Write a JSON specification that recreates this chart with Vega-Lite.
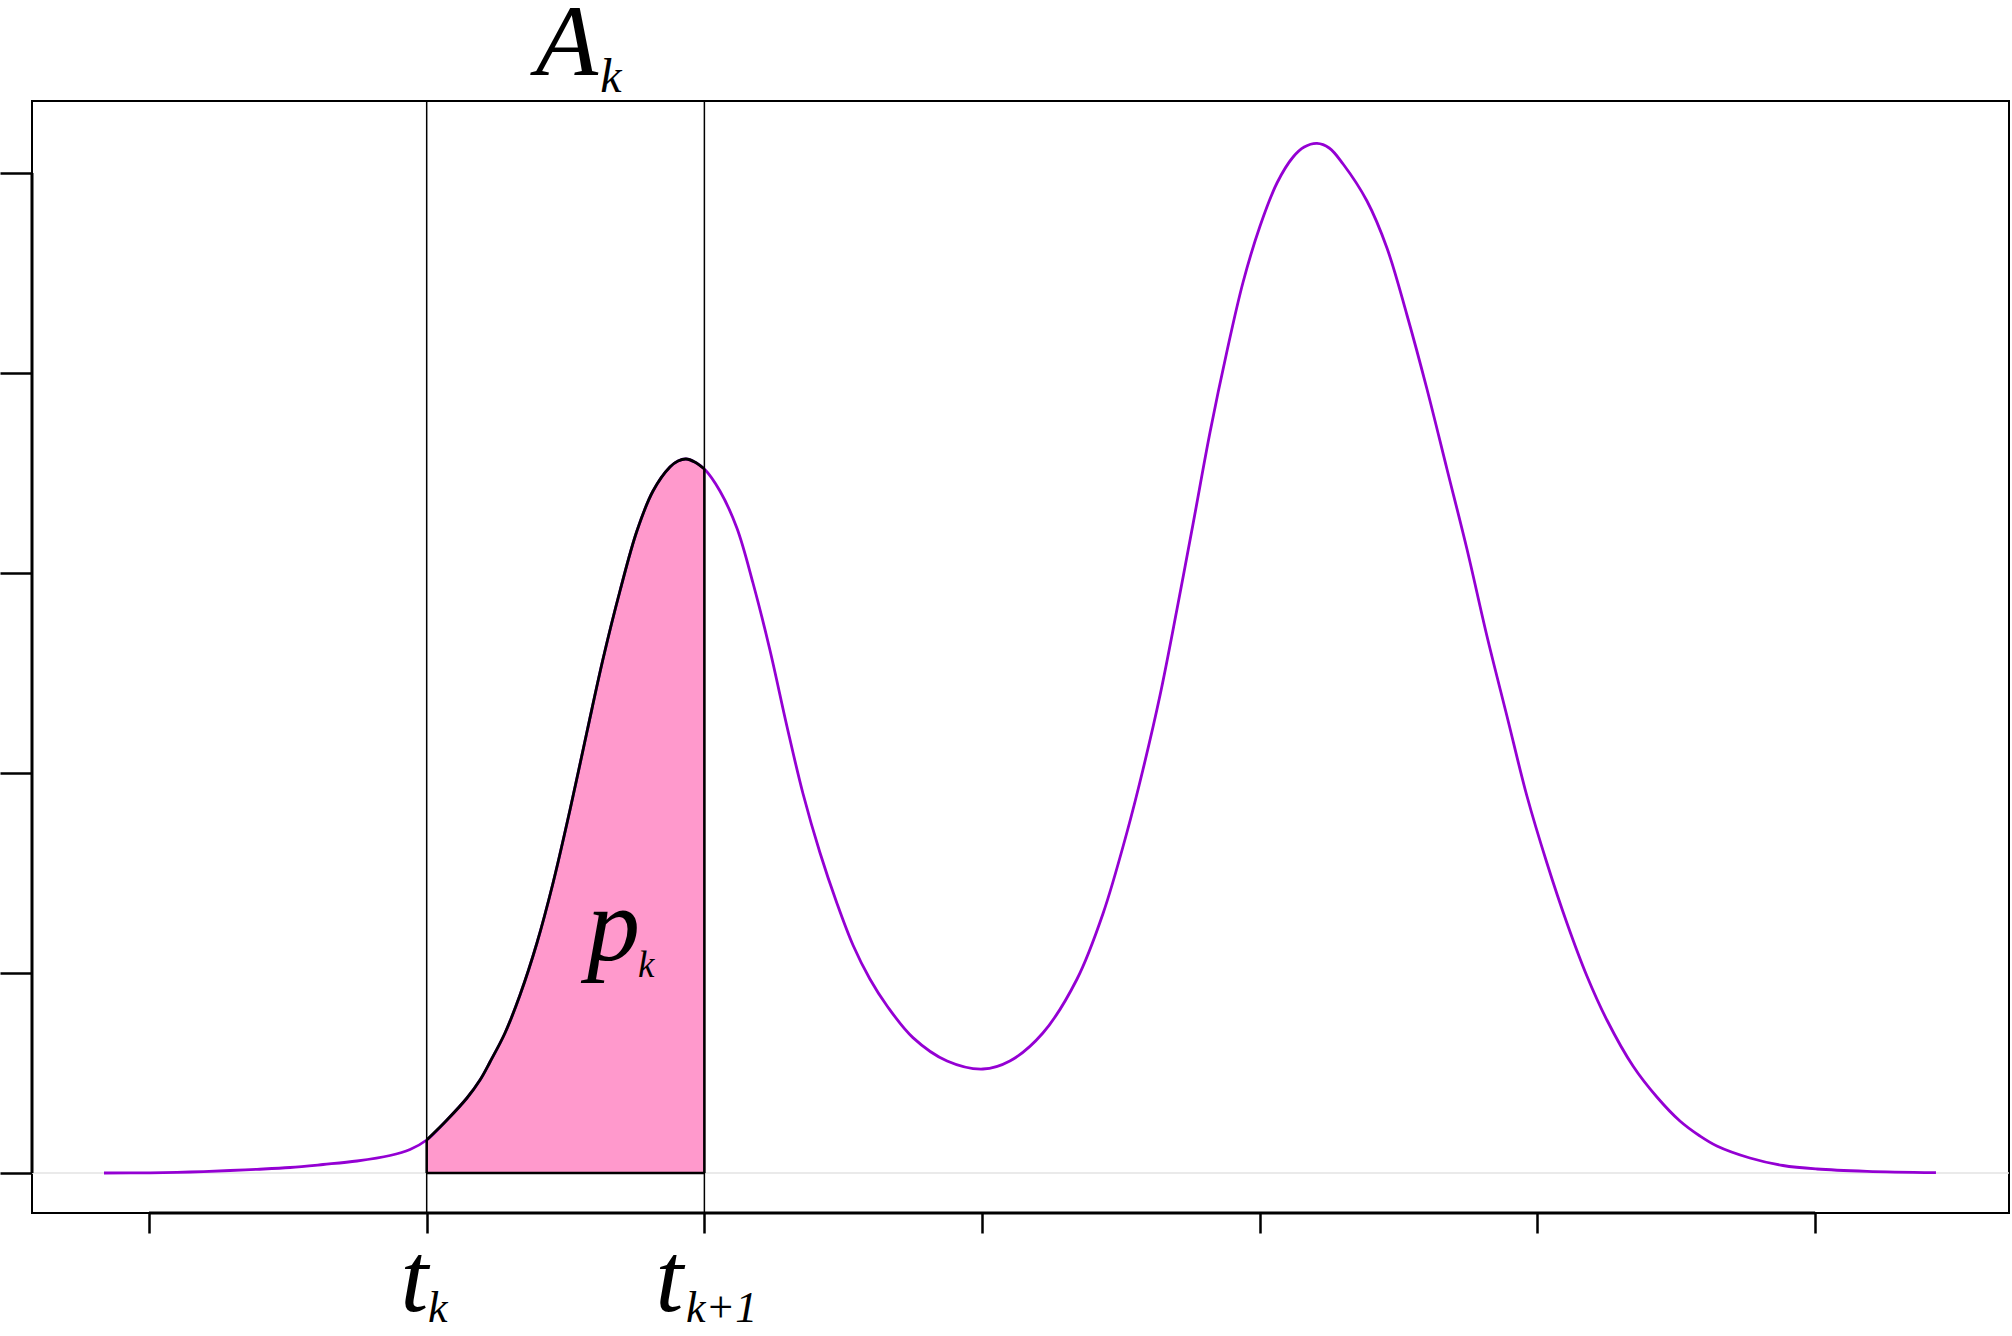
{
  "$schema": "https://vega.github.io/schema/vega-lite/v6.json",
  "width": 1977,
  "height": 1112,
  "autosize": {"type": "none"},
  "padding": {"left": 32, "top": 101, "right": 3, "bottom": 123},
  "background": "white",
  "config": {
    "view": {"stroke": "black", "strokeWidth": 2}
  },
  "datasets": {
    "curve": [
      {"x": -0.162, "y": 0}, {"x": 0.004, "y": 0.001}, {"x": 0.148, "y": 0.005}, {"x": 0.292, "y": 0.0125}, {"x": 0.389, "y": 0.0185}, {"x": 0.508, "y": 0.0275}, {"x": 0.627, "y": 0.0425}, {"x": 0.749, "y": 0.06}, {"x": 0.868, "y": 0.0875}, {"x": 0.94, "y": 0.1175}, {"x": 1.0, "y": 0.165},
      {"x": 1.073, "y": 0.265}, {"x": 1.145, "y": 0.375}, {"x": 1.192, "y": 0.465}, {"x": 1.228, "y": 0.555}, {"x": 1.282, "y": 0.7}, {"x": 1.336, "y": 0.89}, {"x": 1.397, "y": 1.15}, {"x": 1.455, "y": 1.45}, {"x": 1.516, "y": 1.815}, {"x": 1.577, "y": 2.205}, {"x": 1.635, "y": 2.57}, {"x": 1.696, "y": 2.91}, {"x": 1.757, "y": 3.21}, {"x": 1.815, "y": 3.41}, {"x": 1.876, "y": 3.53}, {"x": 1.905, "y": 3.56}, {"x": 1.934, "y": 3.57}, {"x": 1.965, "y": 3.555}, {"x": 2.0, "y": 3.52},
      {"x": 2.056, "y": 3.41}, {"x": 2.117, "y": 3.225}, {"x": 2.175, "y": 2.95}, {"x": 2.236, "y": 2.615}, {"x": 2.297, "y": 2.235}, {"x": 2.355, "y": 1.8975}, {"x": 2.416, "y": 1.6025}, {"x": 2.477, "y": 1.35}, {"x": 2.535, "y": 1.14}, {"x": 2.596, "y": 0.97}, {"x": 2.658, "y": 0.835}, {"x": 2.751, "y": 0.677}, {"x": 2.874, "y": 0.56}, {"x": 3.003, "y": 0.52}, {"x": 3.1, "y": 0.56}, {"x": 3.219, "y": 0.7}, {"x": 3.342, "y": 0.97}, {"x": 3.435, "y": 1.295}, {"x": 3.522, "y": 1.705}, {"x": 3.579, "y": 2.015}, {"x": 3.641, "y": 2.39}, {"x": 3.702, "y": 2.82}, {"x": 3.759, "y": 3.24}, {"x": 3.821, "y": 3.705}, {"x": 3.882, "y": 4.11}, {"x": 3.94, "y": 4.455}, {"x": 4.001, "y": 4.735}, {"x": 4.062, "y": 4.95}, {"x": 4.12, "y": 5.08}, {"x": 4.16, "y": 5.13}, {"x": 4.206, "y": 5.148}, {"x": 4.25, "y": 5.125},
      {"x": 4.3, "y": 5.045}, {"x": 4.386, "y": 4.86}, {"x": 4.458, "y": 4.625}, {"x": 4.53, "y": 4.29}, {"x": 4.602, "y": 3.92}, {"x": 4.674, "y": 3.52}, {"x": 4.746, "y": 3.12}, {"x": 4.818, "y": 2.685}, {"x": 4.89, "y": 2.285}, {"x": 4.962, "y": 1.885}, {"x": 5.034, "y": 1.55}, {"x": 5.106, "y": 1.25}, {"x": 5.178, "y": 0.985}, {"x": 5.25, "y": 0.765}, {"x": 5.344, "y": 0.535}, {"x": 5.43, "y": 0.38}, {"x": 5.513, "y": 0.26}, {"x": 5.585, "y": 0.185}, {"x": 5.646, "y": 0.135}, {"x": 5.765, "y": 0.075}, {"x": 5.884, "y": 0.0375}, {"x": 6.006, "y": 0.02}, {"x": 6.187, "y": 0.0085}, {"x": 6.435, "y": 0.0015}
    ],
    "border": [
      {"x": 1, "x2": 2, "y": 0, "y2": 0},
      {"x": 1, "x2": 1, "y": 0, "y2": 0.165},
      {"x": 2, "x2": 2, "y": 0, "y2": 3.52}
    ],
    "axisLines": [
      {"x": 0, "x2": 6, "y": -0.2, "y2": -0.2},
      {"x": -0.4213, "x2": -0.4213, "y": 0, "y2": 5}
    ],
    "cuts": [{"x": 1}, {"x": 2}],
    "zero": [{"y": 0}],
    "labels": [
      {"name": "A", "part": "main", "text": "A", "x": 1.505, "y": 5.49},
      {"name": "A", "part": "sub", "text": "k", "x": 1.625, "y": 5.405},
      {"name": "p", "part": "main", "text": "p", "x": 1.673, "y": 1.065},
      {"name": "p", "part": "sub", "text": "k", "x": 1.761, "y": 0.98},
      {"name": "t", "part": "main", "text": "t", "x": 0.956, "y": -0.69},
      {"name": "t", "part": "sub", "text": "k", "x": 1.005, "y": -0.745},
      {"name": "t1", "part": "main", "text": "t", "x": 1.874, "y": -0.69},
      {"name": "t1", "part": "sub", "text": "k+1", "x": 1.934, "y": -0.745}
    ]
  },
  "layer": [
    {
      "data": {"name": "zero"},
      "mark": {"type": "rule", "color": "#e3e3e3", "strokeWidth": 1.5},
      "encoding": {
        "y": {"field": "y", "type": "quantitative", "scale": {"domain": [-0.2, 5.36], "nice": false, "zero": false}, "axis": {"values": [0, 1, 2, 3, 4, 5], "title": null, "labels": false, "domain": false, "grid": false, "ticks": true, "tickColor": "black", "tickWidth": 2.5, "tickSize": 32}}
      }
    },
    {
      "data": {"name": "curve"},
      "transform": [{"filter": "datum.x >= 1 && datum.x <= 2"}],
      "mark": {"type": "area", "color": "#FF99CC", "opacity": 1, "interpolate": "catmull-rom"},
      "encoding": {
        "x": {"field": "x", "type": "quantitative", "scale": {"domain": [-0.4213, 6.698], "nice": false, "zero": false}, "axis": {"values": [0, 1, 2, 3, 4, 5, 6], "title": null, "labels": false, "domain": false, "grid": false, "ticks": true, "tickColor": "black", "tickWidth": 2.5, "tickSize": 20}},
        "y": {"field": "y", "type": "quantitative", "axis": {"values": [0, 1, 2, 3, 4, 5], "title": null, "labels": false, "domain": false, "grid": false, "ticks": true, "tickColor": "black", "tickWidth": 2.5, "tickSize": 32}}
      }
    },
    {
      "data": {"name": "curve"},
      "mark": {"type": "line", "color": "#9400D3", "strokeWidth": 2.8, "interpolate": "catmull-rom"},
      "encoding": {
        "x": {"field": "x", "type": "quantitative", "axis": {"values": [0, 1, 2, 3, 4, 5, 6], "title": null, "labels": false, "domain": false, "grid": false, "ticks": true, "tickColor": "black", "tickWidth": 2.5, "tickSize": 20}},
        "y": {"field": "y", "type": "quantitative", "axis": {"values": [0, 1, 2, 3, 4, 5], "title": null, "labels": false, "domain": false, "grid": false, "ticks": true, "tickColor": "black", "tickWidth": 2.5, "tickSize": 32}}
      }
    },
    {
      "data": {"name": "curve"},
      "transform": [{"filter": "datum.x >= 1 && datum.x <= 2"}],
      "mark": {"type": "line", "color": "black", "strokeWidth": 2.8, "interpolate": "catmull-rom"},
      "encoding": {
        "x": {"field": "x", "type": "quantitative"},
        "y": {"field": "y", "type": "quantitative"}
      }
    },
    {
      "data": {"name": "border"},
      "mark": {"type": "rule", "color": "black", "strokeWidth": 2.5},
      "encoding": {
        "x": {"field": "x", "type": "quantitative"},
        "x2": {"field": "x2"},
        "y": {"field": "y", "type": "quantitative"},
        "y2": {"field": "y2"}
      }
    },
    {
      "data": {"name": "cuts"},
      "mark": {"type": "rule", "color": "black", "strokeWidth": 1.5},
      "encoding": {
        "x": {"field": "x", "type": "quantitative"}
      }
    },
    {
      "data": {"name": "axisLines"},
      "mark": {"type": "rule", "color": "black", "strokeWidth": 3},
      "encoding": {
        "x": {"field": "x", "type": "quantitative"},
        "x2": {"field": "x2"},
        "y": {"field": "y", "type": "quantitative"},
        "y2": {"field": "y2"}
      }
    },
    {
      "data": {"name": "labels"},
      "transform": [{"filter": "datum.part === 'main' && datum.name === 'A'"}],
      "mark": {"type": "text", "font": "Liberation Serif", "fontStyle": "italic", "fontSize": 102, "align": "center", "baseline": "alphabetic", "color": "black"},
      "encoding": {
        "x": {"field": "x", "type": "quantitative"},
        "y": {"field": "y", "type": "quantitative"},
        "text": {"field": "text"}
      }
    },
    {
      "data": {"name": "labels"},
      "transform": [{"filter": "datum.part === 'main' && datum.name === 'p'"}],
      "mark": {"type": "text", "font": "Liberation Serif", "fontStyle": "italic", "fontSize": 106, "align": "center", "baseline": "alphabetic", "color": "black"},
      "encoding": {
        "x": {"field": "x", "type": "quantitative"},
        "y": {"field": "y", "type": "quantitative"},
        "text": {"field": "text"}
      }
    },
    {
      "data": {"name": "labels"},
      "transform": [{"filter": "datum.part === 'main' && (datum.name === 't' || datum.name === 't1')"}],
      "mark": {"type": "text", "font": "Liberation Serif", "fontStyle": "italic", "fontSize": 100, "align": "center", "baseline": "alphabetic", "color": "black"},
      "encoding": {
        "x": {"field": "x", "type": "quantitative"},
        "y": {"field": "y", "type": "quantitative"},
        "text": {"field": "text"}
      }
    },
    {
      "data": {"name": "labels"},
      "transform": [{"filter": "datum.part === 'sub' && datum.name === 'A'"}],
      "mark": {"type": "text", "font": "Liberation Serif", "fontStyle": "italic", "fontSize": 48, "align": "left", "baseline": "alphabetic", "color": "black"},
      "encoding": {
        "x": {"field": "x", "type": "quantitative"},
        "y": {"field": "y", "type": "quantitative"},
        "text": {"field": "text"}
      }
    },
    {
      "data": {"name": "labels"},
      "transform": [{"filter": "datum.part === 'sub' && datum.name === 'p'"}],
      "mark": {"type": "text", "font": "Liberation Serif", "fontStyle": "italic", "fontSize": 37, "align": "left", "baseline": "alphabetic", "color": "black"},
      "encoding": {
        "x": {"field": "x", "type": "quantitative"},
        "y": {"field": "y", "type": "quantitative"},
        "text": {"field": "text"}
      }
    },
    {
      "data": {"name": "labels"},
      "transform": [{"filter": "datum.part === 'sub' && (datum.name === 't' || datum.name === 't1')"}],
      "mark": {"type": "text", "font": "Liberation Serif", "fontStyle": "italic", "fontSize": 44, "align": "left", "baseline": "alphabetic", "color": "black"},
      "encoding": {
        "x": {"field": "x", "type": "quantitative"},
        "y": {"field": "y", "type": "quantitative"},
        "text": {"field": "text"}
      }
    }
  ]
}
